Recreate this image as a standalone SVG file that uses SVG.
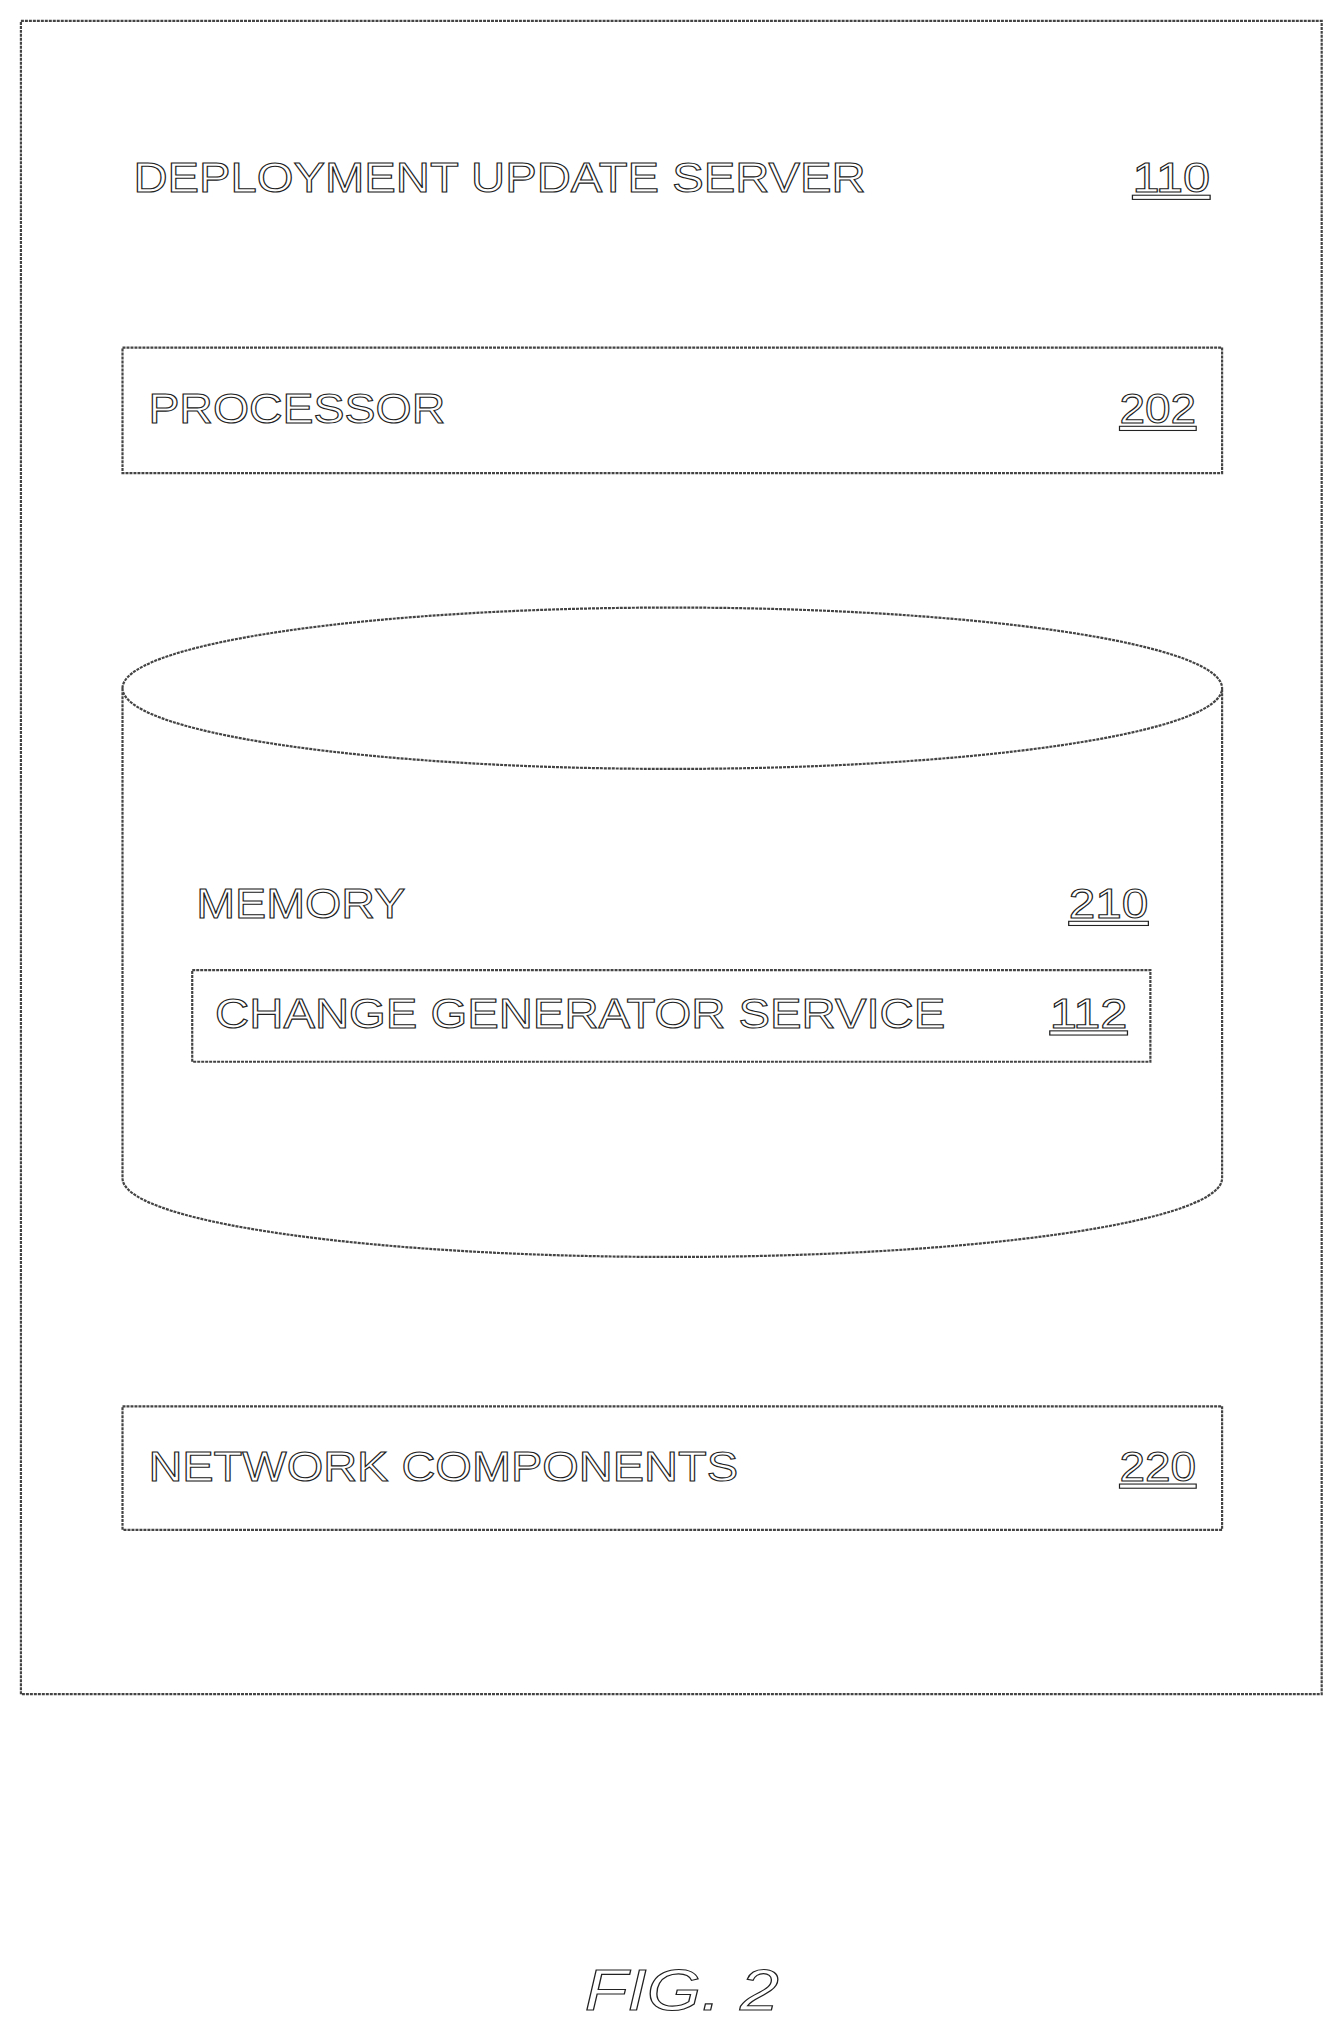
<svg xmlns="http://www.w3.org/2000/svg" width="1343" height="2034" viewBox="0 0 1343 2034">
<style>
.b{fill:none;stroke:#444;stroke-width:2.2;stroke-dasharray:3 1}
.t{font-family:"Liberation Sans",Arial,sans-serif;font-size:42px;fill:#fff;stroke:#222;stroke-width:1.1}
.u{text-decoration:underline}
</style>
<rect width="1343" height="2034" fill="#fff"/>
<g transform="scale(0.996)">
<g id="server">
<rect class="b" x="21" y="21" width="1306" height="1680"/>
<text class="t" x="134" y="193" textLength="735" lengthAdjust="spacingAndGlyphs">DEPLOYMENT UPDATE SERVER</text>
<text class="t u" x="1137" y="193" textLength="78" lengthAdjust="spacingAndGlyphs">110</text>
</g>
<g id="processor">
<rect class="b" x="123" y="349" width="1104" height="126"/>
<text class="t" x="149" y="425" textLength="298" lengthAdjust="spacingAndGlyphs">PROCESSOR</text>
<text class="t u" x="1124" y="425" textLength="77" lengthAdjust="spacingAndGlyphs">202</text>
</g>
<g id="memory">
<path class="b" d="M123 691 A552 81 0 0 1 1227 691 A552 81 0 0 1 123 691 M123 691 V1183 A552 79 0 0 0 1227 1183 V691"/>
<text class="t" x="197" y="922" textLength="210" lengthAdjust="spacingAndGlyphs">MEMORY</text>
<text class="t u" x="1073" y="922" textLength="80" lengthAdjust="spacingAndGlyphs">210</text>
</g>
<g id="changegen">
<rect class="b" x="193" y="974" width="962" height="92"/>
<text class="t" x="216" y="1032" textLength="733" lengthAdjust="spacingAndGlyphs">CHANGE GENERATOR SERVICE</text>
<text class="t u" x="1054" y="1032" textLength="78" lengthAdjust="spacingAndGlyphs">112</text>
</g>
<g id="network">
<rect class="b" x="123" y="1412" width="1104" height="124"/>
<text class="t" x="149" y="1487" textLength="592" lengthAdjust="spacingAndGlyphs">NETWORK COMPONENTS</text>
<text class="t u" x="1124" y="1487" textLength="77" lengthAdjust="spacingAndGlyphs">220</text>
</g>
<g id="connectors"/>
<text class="t" x="587" y="2018" font-style="italic" style="font-size:58px" textLength="195" lengthAdjust="spacingAndGlyphs">FIG. 2</text>
</g>
</svg>
